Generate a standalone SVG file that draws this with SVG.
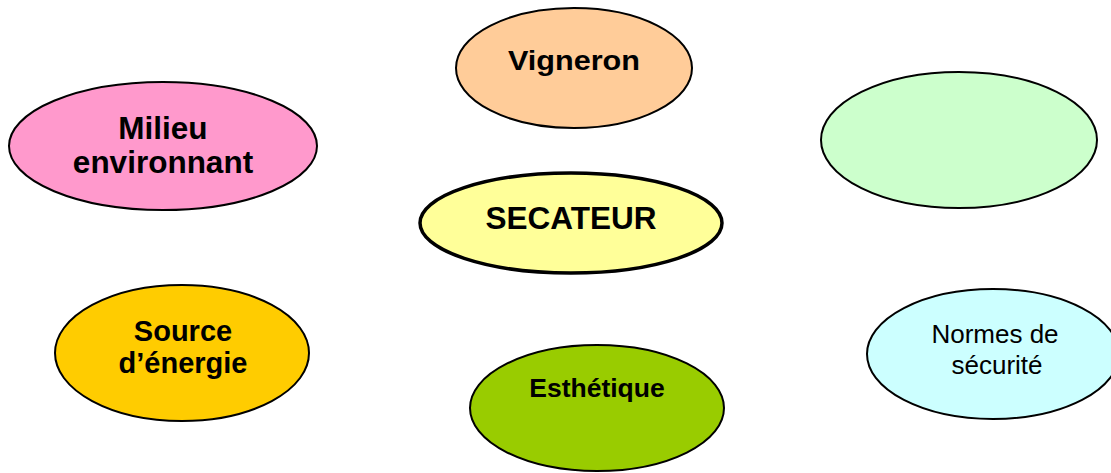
<svg xmlns="http://www.w3.org/2000/svg" width="1111" height="473" viewBox="0 0 1111 473">
<style>
.node ellipse{stroke:#000;stroke-width:2}
#secateur ellipse{stroke-width:3.5}
text{font-family:"Liberation Sans",Arial,sans-serif;fill:#000;text-anchor:middle}
.b{font-weight:bold}
</style>
<rect width="1111" height="473" fill="#fff"/>
<g id="connectors"/>
<g id="vigneron" class="node">
<ellipse cx="574" cy="68" rx="118" ry="60" fill="#FFCC99"/>
<text x="574" y="70" class="b" font-size="28" textLength="132" lengthAdjust="spacingAndGlyphs">Vigneron</text>
</g>
<g id="milieu" class="node">
<ellipse cx="163" cy="146" rx="154" ry="64" fill="#FF99CC"/>
<text x="163" y="139" class="b" font-size="31.5">Milieu</text>
<text x="163" y="173" class="b" font-size="31.5">environnant</text>
</g>
<g id="vide" class="node">
<ellipse cx="959" cy="140" rx="138" ry="68" fill="#CCFFCC"/>
</g>
<g id="secateur" class="node">
<ellipse cx="571" cy="223" rx="151" ry="50" fill="#FFFF99"/>
<text x="571" y="229" class="b" font-size="31.5">SECATEUR</text>
</g>
<g id="source" class="node">
<ellipse cx="182" cy="353" rx="127" ry="68" fill="#FFCC00"/>
<text x="183" y="341" class="b" font-size="29">Source</text>
<text x="183" y="373" class="b" font-size="29">d’énergie</text>
</g>
<g id="esthetique" class="node">
<ellipse cx="597" cy="408" rx="127" ry="63" fill="#99CC00"/>
<text x="597" y="397" class="b" font-size="26.5">Esthétique</text>
</g>
<g id="normes" class="node">
<ellipse cx="993" cy="354" rx="126" ry="65" fill="#CCFFFF"/>
<text x="995" y="343" font-size="26">Normes de</text>
<text x="997" y="374" font-size="26">sécurité</text>
</g>
</svg>
